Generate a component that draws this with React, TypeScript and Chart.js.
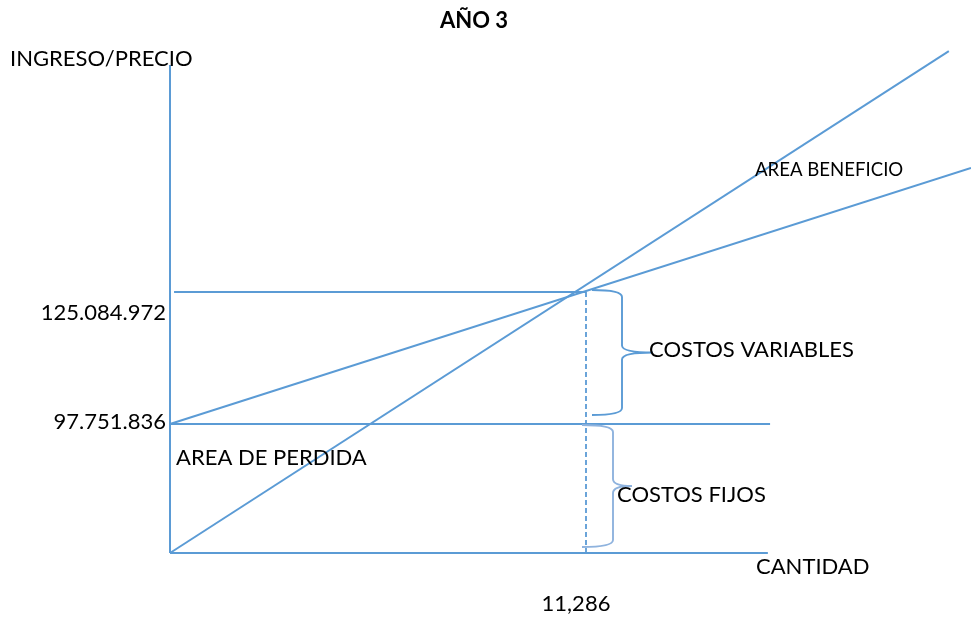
import React, { useEffect, useRef } from "react";
import { Chart, registerables, LinearScale } from "chart.js";

// Break-even diagram, year 3
const FIXED_COST = 97751836;
const BREAKEVEN_REVENUE = 125084972;
const BREAKEVEN_QTY = 11286;

// Line end points: quantity (x) and money value (y)
const axisYQty = [0, 0];
const axisYValue = [0, 172100000];
const axisXQty = [0, 16220];
const axisXValue = [0, 0];
const fixedCostQty = [0, 16280];
const fixedCostValue = [FIXED_COST, FIXED_COST];
const breakevenQty = [110, BREAKEVEN_QTY];
const breakevenValue = [BREAKEVEN_REVENUE, BREAKEVEN_REVENUE];
const dropQty = [BREAKEVEN_QTY, BREAKEVEN_QTY];
const dropValue = [BREAKEVEN_REVENUE, 0];
const revenueQty = [0, 21130];
const revenueValue = [0, 175000000];
const totalCostQty = [0, 21730];
const totalCostValue = [FIXED_COST, 150800000];

// Text
const TITLE = "AÑO 3";
const Y_TITLE = "INGRESO/PRECIO";
const X_TITLE = "CANTIDAD";
const yTickLabels = ["125.084.972", "97.751.836"];
const xTickLabels = ["11,286"];
const areaLabels = ["AREA BENEFICIO", "AREA DE PERDIDA"];
const braceLabels = ["COSTOS VARIABLES", "COSTOS FIJOS"];

const Q_MAX = 21731;
const V_MAX = 177300000;

const BLUE = "#5B9BD5";
const LIGHT_BLUE = "#8FB3DE";
const FONT = "Lato, 'Open Sans', sans-serif";

// Linear scale whose lower part (below the fixed cost) is compressed,
// so the fixed-cost band and the break-even band both stay readable.
class BrokenLinearScale extends LinearScale {
  static id = "brokenLinear";
  static defaults = { ...(LinearScale as any).defaults };

  getPixelForValue(value: number) {
    const o: any = this.options;
    const b = o.breakValue;
    const f = o.breakFraction;
    const min = (this as any).min;
    const max = (this as any).max;
    let dec: number;
    if (value <= b) dec = ((value - min) / (b - min)) * f;
    else dec = f + ((value - b) / (max - b)) * (1 - f);
    return this.getPixelForDecimal(dec);
  }

  getValueForPixel(pixel: number) {
    const o: any = this.options;
    const b = o.breakValue;
    const f = o.breakFraction;
    const min = (this as any).min;
    const max = (this as any).max;
    const dec = this.getDecimalForPixel(pixel);
    if (dec <= f) return min + (dec / f) * (b - min);
    return b + ((dec - f) / (1 - f)) * (max - b);
  }
}

Chart.register(...registerables, BrokenLinearScale);

const pts = (qs: number[], vs: number[]) => qs.map((q, i) => ({ x: q, y: vs[i] }));

function brace(
  ctx: CanvasRenderingContext2D,
  xStart: number,
  yTop: number,
  yBot: number,
  xBar: number,
  xTip: number,
  color: string
) {
  const yMid = (yTop + yBot) / 2;
  const r = 7;
  ctx.save();
  ctx.strokeStyle = color;
  ctx.lineWidth = 1.9;
  ctx.beginPath();
  ctx.moveTo(xStart, yTop);
  ctx.quadraticCurveTo(xBar, yTop, xBar, yTop + r);
  ctx.lineTo(xBar, yMid - r);
  ctx.quadraticCurveTo(xBar, yMid, xTip, yMid);
  ctx.moveTo(xTip, yMid);
  ctx.quadraticCurveTo(xBar, yMid, xBar, yMid + r);
  ctx.lineTo(xBar, yBot - r);
  ctx.quadraticCurveTo(xBar, yBot, xStart, yBot);
  ctx.stroke();
  ctx.restore();
}

const diagramText = {
  id: "diagramText",
  afterDatasetsDraw(chart: any) {
    const { ctx } = chart;
    const x = chart.scales.x;
    const y = chart.scales.y;
    const xBE = x.getPixelForValue(BREAKEVEN_QTY);
    const yBE = y.getPixelForValue(BREAKEVEN_REVENUE);
    const yFC = y.getPixelForValue(FIXED_COST);
    const y0 = y.getPixelForValue(0);
    const xAxis = x.getPixelForValue(0);

    // braces
    brace(ctx, xBE + 6, yBE - 2, yFC - 9, xBE + 36, xBE + 67, BLUE);
    brace(ctx, xBE - 4, yFC + 1, y0 - 6, xBE + 27, xBE + 46, LIGHT_BLUE);

    ctx.save();
    ctx.fillStyle = "#000";
    ctx.textBaseline = "middle";

    ctx.font = `bold 22px ${FONT}`;
    ctx.textAlign = "center";
    ctx.fillText(TITLE, 474, 21);

    ctx.font = `22px ${FONT}`;
    ctx.textAlign = "left";
    ctx.fillText(Y_TITLE, 10, 59);
    ctx.fillText(X_TITLE, 756, y0 + 14);

    ctx.textAlign = "right";
    ctx.fillText(yTickLabels[0], xAxis - 4, yBE + 21);
    ctx.fillText(yTickLabels[1], xAxis - 4, yFC - 2);

    ctx.textAlign = "center";
    ctx.fillText(xTickLabels[0], xBE - 10, y0 + 51);

    ctx.textAlign = "left";
    ctx.fillText(areaLabels[1], xAxis + 6, yFC + 34);
    ctx.fillText(braceLabels[0], xBE + 63, (yBE + yFC) / 2 - 8);
    ctx.fillText(braceLabels[1], xBE + 31, (yFC + y0) / 2 + 6);

    ctx.font = `18.6px ${FONT}`;
    ctx.fillText(areaLabels[0], 755, 170);
    ctx.restore();
  },
};

export default function App() {
  const canvasRef = useRef<HTMLCanvasElement | null>(null);

  useEffect(() => {
    const canvas = canvasRef.current;
    if (!canvas) return;
    const solid = {
      borderColor: BLUE,
      borderWidth: 2,
      pointRadius: 0,
      fill: false,
      tension: 0,
      clip: false as any,
    };
    const chart = new Chart(canvas, {
      type: "line",
      data: {
        datasets: [
          { ...solid, label: "eje y", data: pts(axisYQty, axisYValue) },
          { ...solid, label: "eje x", data: pts(axisXQty, axisXValue) },
          { ...solid, label: "costos fijos", data: pts(fixedCostQty, fixedCostValue) },
          { ...solid, label: "punto de equilibrio", data: pts(breakevenQty, breakevenValue) },
          {
            ...solid,
            label: "cantidad de equilibrio",
            borderWidth: 1.8,
            borderDash: [5, 3],
            data: pts(dropQty, dropValue),
          },
          { ...solid, label: "ingresos", data: pts(revenueQty, revenueValue) },
          { ...solid, label: "costos totales", data: pts(totalCostQty, totalCostValue) },
        ],
      },
      options: {
        animation: false,
        responsive: false,
        devicePixelRatio: 1,
        events: [],
        layout: { padding: { left: 170, right: 0, top: 40, bottom: 66 } },
        plugins: { legend: { display: false }, tooltip: { enabled: false } },
        scales: {
          x: { type: "linear", display: false, min: 0, max: Q_MAX, bounds: "data" },
          y: {
            type: "brokenLinear" as any,
            display: false,
            min: 0,
            max: V_MAX,
            bounds: "data",
            breakValue: FIXED_COST,
            breakFraction: 129 / 513,
          } as any,
        },
      },
      plugins: [diagramText],
    });
    return () => chart.destroy();
  }, []);

  return (
    <div style={{ position: "fixed", left: 0, top: 0, width: 971, height: 619, background: "#fff" }}>
      <canvas ref={canvasRef} width={971} height={619} style={{ display: "block" }} />
    </div>
  );
}
